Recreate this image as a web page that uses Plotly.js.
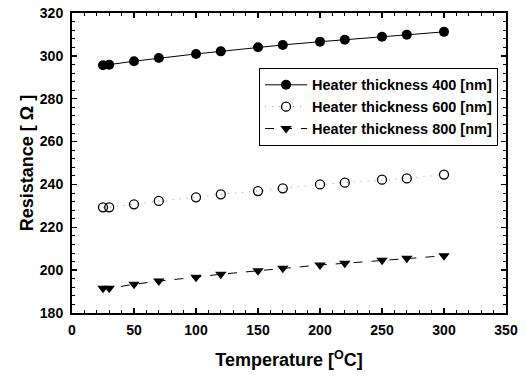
<!DOCTYPE html>
<html>
<head>
<meta charset="utf-8">
<script src="https://cdn.plot.ly/plotly-3.0.1.min.js"></script>
<style>html,body{margin:0;padding:0;background:#fff;}#chart{width:526px;height:379px;}</style>
</head>
<body>
<div id="chart"></div>
<script>
const temperature = [25, 30, 50, 70, 100, 120, 150, 170, 200, 220, 250, 270, 300];
const r400 = [295.6, 295.9, 297.5, 299.0, 300.9, 302.1, 304.0, 305.1, 306.6, 307.5, 308.9, 309.9, 311.2];
const r600 = [229.3, 229.3, 230.7, 232.3, 234.0, 235.4, 236.9, 238.2, 240.0, 240.8, 242.2, 242.8, 244.6];
const r800 = [191.5, 191.5, 193.4, 194.9, 196.7, 198.1, 199.7, 200.9, 202.4, 203.2, 204.6, 205.5, 206.7];
const seriesNames = ['Heater thickness 400 [nm]', 'Heater thickness 600 [nm]', 'Heater thickness 800 [nm]'];
const xTitle = 'Temperature [<sup>O</sup>C]';
const yTitle = 'Resistance [ Ω ]';

const FONT = 'Liberation Sans, Arial, sans-serif';

const traces = [
  {x: temperature, y: r400, name: seriesNames[0], type: 'scatter', mode: 'lines+markers',
   line: {color: '#000', width: 1, dash: 'solid'},
   marker: {symbol: 'circle', size: 10, color: '#000'}},
  {x: temperature, y: r600, name: seriesNames[1], type: 'scatter', mode: 'lines+markers',
   line: {color: '#999', width: 1, dash: '1px,6px'},
   marker: {symbol: 'circle-open', size: 9, color: '#000', line: {width: 1.3, color: '#000'}}},
  {x: temperature, y: r800, name: seriesNames[2], type: 'scatter', mode: 'lines+markers',
   line: {color: '#000', width: 1, dash: 'dash'},
   marker: {symbol: 'triangle-down', size: 10, color: '#000'}}
];

const axisCommon = {
  showgrid: false, zeroline: false, showline: true, linecolor: '#000', linewidth: 2,
  mirror: 'ticks', ticks: 'inside', ticklen: 5, tickwidth: 1.3, tickcolor: '#000',
  tickfont: {family: FONT, size: 14, color: '#000', weight: 'bold'}
};

const layout = {
  width: 526, height: 379,
  margin: {l: 72, r: 20, t: 13, b: 66},
  paper_bgcolor: '#fff', plot_bgcolor: '#fff',
  font: {family: FONT, color: '#000'},
  showlegend: true,
  legend: {
    x: 0.431, y: 0.817, xanchor: 'left', yanchor: 'top',
    bgcolor: '#fff', bordercolor: '#000', borderwidth: 1,
    font: {family: FONT, size: 14.5, color: '#000', weight: 'bold'},
    itemwidth: 42,
    tracegroupgap: 0
  },
  xaxis: Object.assign({}, axisCommon, {
    range: [0, 350], dtick: 50, tick0: 0,
    ticklabelstandoff: 3,
    minor: {dtick: 10, ticks: 'inside', ticklen: 3, tickcolor: '#000', tickwidth: 1},
    title: {text: xTitle, font: {family: FONT, size: 18, color: '#000', weight: 'bold'}, standoff: 17}
  }),
  yaxis: Object.assign({}, axisCommon, {
    range: [180, 320], dtick: 20, tick0: 180,
    ticklabelstandoff: 4,
    minor: {dtick: 4, ticks: 'inside', ticklen: 3, tickcolor: '#000', tickwidth: 1},
    title: {text: yTitle, font: {family: FONT, size: 18, color: '#000', weight: 'bold'}, standoff: 2}
  })
};

Plotly.newPlot('chart', traces, layout, {displayModeBar: false, staticPlot: true});
</script>
</body>
</html>
